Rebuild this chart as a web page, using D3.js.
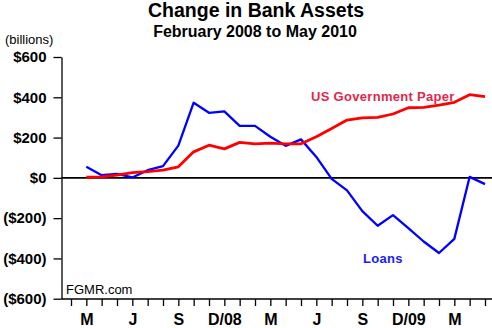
<!DOCTYPE html>
<html><head><meta charset="utf-8">
<script src="https://cdn.jsdelivr.net/npm/d3@7"></script>
<style>
html,body{margin:0;padding:0;background:#fff;}
svg{display:block;font-family:"Liberation Sans",Arial,sans-serif;}
</style></head>
<body>
<svg id="chart" width="492" height="328"></svg>
<script>
// Month index 0 = Feb 2008 ... 27 = May 2010
const monthIndex = d3.range(1, 28);
const loans = [55, 13, 20, 2, 38, 58, 160, 373, 323, 330, 258, 258, 204, 159, 191, 104, -5, -62, -165, -238, -185, -250, -316, -373, -303, 5, -31];
const govPaper = [3, 5, 14, 26, 31, 38, 55, 129, 162, 144, 176, 169, 172, 169, 169, 204, 245, 287, 298, 300, 317, 348, 350, 361, 375, 413, 403];
const xTickIndex = d3.range(0, 28);
const xTickLabels = {1: "M", 4: "J", 7: "S", 10: "D/08", 13: "M", 16: "J", 19: "S", 22: "D/09", 25: "M"};
const yTicks = [-600, -400, -200, 0, 200, 400, 600];
const yTickLabel = v => v < 0 ? "($" + (-v) + ")" : "$" + v;

const svg = d3.select("#chart");
const x = d3.scaleLinear().domain([0, 27]).range([71, 485]);
const y = d3.scaleLinear().domain([-600, 600]).range([298.7, 57]);
const axisX = 61.5, axisY = 299, rightEdge = 492;

// Title
svg.append("text").attr("x", 256).attr("y", 17).attr("text-anchor", "middle")
  .attr("font-size", 19.5).attr("font-weight", "bold").text("Change in Bank Assets");
svg.append("text").attr("x", 255).attr("y", 37).attr("text-anchor", "middle")
  .attr("font-size", 16).attr("font-weight", "bold").text("February 2008 to May 2010");
svg.append("text").attr("x", 5).attr("y", 44).attr("font-size", 13).text("(billions)");

// Y axis
const yAxis = d3.axisLeft(y).tickValues(yTicks).tickFormat(yTickLabel).tickSize(8).tickSizeOuter(0).tickPadding(7);
const gy = svg.append("g").attr("transform", `translate(${axisX},0)`).call(yAxis);
gy.select(".domain").attr("stroke", "#000").attr("stroke-width", 1.3);
gy.selectAll(".tick line").attr("stroke", "#000").attr("stroke-width", 1.3);
gy.selectAll(".tick text").attr("font-size", 15).attr("font-weight", "bold")
  .attr("font-family", "Liberation Sans, Arial, sans-serif").attr("fill", "#000");

// X axis
const xAxis = d3.axisBottom(x).tickValues(xTickIndex).tickFormat(i => xTickLabels[i] || "").tickSize(7).tickSizeOuter(0).tickPadding(8);
const gx = svg.append("g").attr("transform", `translate(0,${axisY})`).call(xAxis);
gx.select(".domain").remove();
gx.selectAll(".tick line").attr("stroke", "#000").attr("stroke-width", 1.3);
gx.selectAll(".tick text").attr("font-size", 16).attr("font-weight", "bold")
  .attr("font-family", "Liberation Sans, Arial, sans-serif").attr("fill", "#000");
svg.append("line").attr("x1", axisX).attr("x2", rightEdge).attr("y1", axisY).attr("y2", axisY)
  .attr("stroke", "#000").attr("stroke-width", 1.3);

// Zero line
svg.append("line").attr("x1", axisX).attr("x2", rightEdge).attr("y1", y(0)).attr("y2", y(0))
  .attr("stroke", "#000").attr("stroke-width", 1.6);

// Lines
const line = d3.line().x((d, i) => x(monthIndex[i])).y(d => y(d));
svg.append("path").datum(loans).attr("d", line).attr("fill", "none")
  .attr("stroke", "#0000ff").attr("stroke-width", 2.3).attr("stroke-linejoin", "round");
svg.append("path").datum(govPaper).attr("d", line).attr("fill", "none")
  .attr("stroke", "#ff0000").attr("stroke-width", 2.8).attr("stroke-linejoin", "round");

// Labels
svg.append("text").attr("x", 311).attr("y", 101).attr("font-size", 13).attr("font-weight", "bold")
  .attr("letter-spacing", 0.3).attr("fill", "#e0284a").text("US Government Paper");
svg.append("text").attr("x", 363).attr("y", 263).attr("font-size", 13).attr("font-weight", "bold")
  .attr("letter-spacing", 0.3).attr("fill", "#1a1aff").text("Loans");
svg.append("text").attr("x", 66).attr("y", 294).attr("font-size", 13).text("FGMR.com");
</script>
</body></html>
